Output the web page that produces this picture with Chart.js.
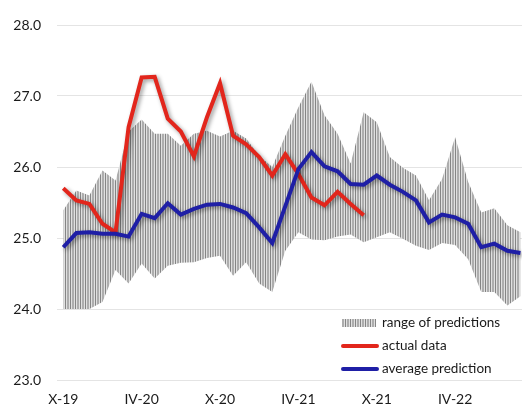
<!DOCTYPE html>
<html>
<head>
<meta charset="utf-8">
<script src="https://cdn.jsdelivr.net/npm/chart.js@4.4.1/dist/chart.umd.min.js"></script>
<style>
  html, body { margin: 0; padding: 0; background: #fff; }
  #wrap { width: 522px; height: 407px; position: relative; }
</style>
</head>
<body>
<div id="wrap"><canvas id="chart"></canvas></div>
<script>
// months, Oct 2019 .. Sep 2022 (roman month - year)
const months = ['X-19','XI-19','XII-19','I-20','II-20','III-20','IV-20','V-20','VI-20','VII-20','VIII-20','IX-20',
                'X-20','XI-20','XII-20','I-21','II-21','III-21','IV-21','V-21','VI-21','VII-21','VIII-21','IX-21',
                'X-21','XI-21','XII-21','I-22','II-22','III-22','IV-22','V-22','VI-22','VII-22','VIII-22','IX-22']
const tickMonths = [0, 6, 12, 18, 24, 30]

const actualData = [25.70, 25.53, 25.48, 25.20, 25.08, 26.56, 27.26, 27.27, 26.68, 26.50, 26.15, 26.70,
                    27.18, 26.44, 26.32, 26.14, 25.88, 26.18, 25.90, 25.57, 25.46, 25.65, 25.48, 25.32]
const averagePrediction = [24.87, 25.07, 25.08, 25.06, 25.06, 25.02, 25.34, 25.28, 25.49, 25.33, 25.41, 25.47,
                           25.48, 25.43, 25.35, 25.15, 24.93, 25.45, 25.97, 26.21, 26.01, 25.94, 25.76, 25.75,
                           25.88, 25.75, 25.65, 25.53, 25.22, 25.33, 25.29, 25.20, 24.87, 24.92, 24.82, 24.79]
const rangeHigh = [25.39, 25.67, 25.60, 25.95, 25.81, 26.50, 26.67, 26.47, 26.47, 26.30, 26.47, 26.51,
                   26.43, 26.51, 26.40, 26.16, 26.00, 26.44, 26.84, 27.20, 26.73, 26.47, 26.05, 26.77,
                   26.63, 26.14, 25.99, 25.88, 25.53, 25.83, 26.42, 25.79, 25.36, 25.42, 25.18, 25.08]
const rangeLow = [24.00, 24.00, 24.00, 24.10, 24.55, 24.36, 24.64, 24.43, 24.61, 24.65, 24.66, 24.72,
                  24.75, 24.47, 24.66, 24.36, 24.24, 24.82, 25.08, 24.98, 24.97, 25.02, 25.05, 24.94,
                  25.01, 25.08, 24.99, 24.89, 24.83, 24.93, 24.90, 24.70, 24.24, 24.24, 24.05, 24.18]

const RED = '#e2261c'
const BLUE = '#1f1fa6'

// vertical hatch used for the range of predictions
function makeHatch() {
    const c = document.createElement('canvas')
    c.width = 5; c.height = 4
    const g = c.getContext('2d')
    const cols = ['#858585', '#e0e0e0', '#adadad', '#adadad', '#e0e0e0']
    cols.forEach((col, i) => { g.fillStyle = col; g.fillRect(i, 0, 1, 4) })
    return g.createPattern(c, 'repeat')
}
const hatch = makeHatch()

const toPoints = arr => arr.map((v, i) => ({ x: i, y: v }))

const lineShadow = {
    id: 'lineShadow',
    beforeDatasetDraw(chart, args) {
        if (!chart.data.datasets[args.index].shadow) return
        const ctx = chart.ctx
        ctx.save()
        ctx.shadowColor = 'rgba(0,0,0,0.4)'
        ctx.shadowBlur = 4
        ctx.shadowOffsetX = 2
        ctx.shadowOffsetY = 2
    },
    afterDatasetDraw(chart, args) {
        if (!chart.data.datasets[args.index].shadow) return
        chart.ctx.restore()
    }
}

const cornerLegend = {
    id: 'cornerLegend',
    afterDraw(chart) {
        const ctx = chart.ctx
        const items = [
            { label: 'range of predictions', kind: 'hatch', y: 323 },
            { label: 'actual data', kind: 'line', color: RED, y: 346 },
            { label: 'average prediction', kind: 'line', color: BLUE, y: 369 }
        ]
        ctx.save()
        items.forEach(it => {
            if (it.kind === 'hatch') {
                ctx.fillStyle = hatch
                ctx.fillRect(342, it.y - 4, 34, 8)
            } else {
                ctx.strokeStyle = it.color
                ctx.lineWidth = 4
                ctx.lineCap = 'round'
                ctx.beginPath()
                ctx.moveTo(343, it.y)
                ctx.lineTo(377, it.y)
                ctx.stroke()
            }
            ctx.fillStyle = '#1a1a1a'
            ctx.font = '13.5px Lato'
            ctx.textBaseline = 'middle'
            ctx.textAlign = 'left'
            ctx.fillText(it.label, 382, it.y)
        })
        ctx.restore()
    }
}

Chart.defaults.font.family = 'Lato'
Chart.defaults.font.size = 14
Chart.defaults.color = '#1a1a1a'

new Chart(document.getElementById('chart'), {
    type: 'line',
    data: {
        datasets: [
            {
                label: 'average prediction',
                data: toPoints(averagePrediction),
                borderColor: BLUE,
                borderWidth: 4,
                pointRadius: 0,
                tension: 0,
                shadow: true,
                order: 0
            },
            {
                label: 'actual data',
                data: toPoints(actualData),
                borderColor: RED,
                borderWidth: 4,
                pointRadius: 0,
                tension: 0,
                shadow: true,
                order: 1
            },
            {
                label: 'range of predictions',
                data: toPoints(rangeHigh),
                borderWidth: 0,
                borderColor: 'rgba(0,0,0,0)',
                backgroundColor: hatch,
                pointRadius: 0,
                fill: '+1',
                order: 2
            },
            {
                label: 'range low',
                data: toPoints(rangeLow),
                borderWidth: 0,
                borderColor: 'rgba(0,0,0,0)',
                pointRadius: 0,
                fill: false,
                order: 3
            }
        ]
    },
    options: {
        responsive: true,
        maintainAspectRatio: false,
        animation: false,
        layout: { padding: { top: 25, left: 0, right: 0, bottom: 0 } },
        plugins: {
            legend: { display: false },
            tooltip: { enabled: false }
        },
        scales: {
            x: {
                type: 'linear',
                min: -0.48,
                max: 35.12,
                afterBuildTicks: scale => { scale.ticks = tickMonths.map(v => ({ value: v })) },
                afterFit: scale => { scale.height = 27 },
                grid: { display: false, drawTicks: false },
                border: { display: false },
                ticks: {
                    padding: 11,
                    maxRotation: 0,
                    autoSkip: false,
                    callback: v => months[v]
                }
            },
            y: {
                min: 23,
                max: 28,
                afterFit: scale => { scale.width = 57 },
                grid: { color: '#e4e4e4', drawTicks: false },
                border: { display: false },
                ticks: {
                    stepSize: 1,
                    padding: 16,
                    callback: v => v.toFixed(1)
                }
            }
        }
    },
    plugins: [lineShadow, cornerLegend]
})
</script>
</body>
</html>
